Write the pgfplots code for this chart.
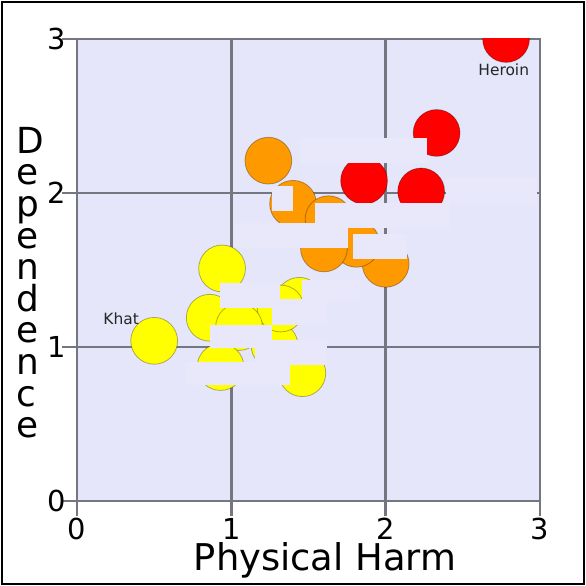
\documentclass[border=0pt]{standalone}
\usepackage{fontspec}
\setmainfont{DejaVu Sans}
\usepackage{pgfplots}
\pgfplotsset{compat=1.18}
\definecolor{lavbg}{RGB}{230,230,250}
\definecolor{boxbg}{RGB}{232,232,250}
\definecolor{gridc}{RGB}{118,118,128}
\definecolor{cred}{RGB}{255,0,0}
\definecolor{corange}{RGB}{255,153,0}
\definecolor{cyellow}{RGB}{255,255,0}
\begin{document}
\begin{tikzpicture}
\begin{axis}[
  scale only axis, width=463bp, height=462bp,
  xmin=0, xmax=3, ymin=0, ymax=3,
  xtick={0,1,2,3}, ytick={0,1,2,3},
  xtick pos=left, ytick pos=left,
  grid=major,
  grid style={gridc, line width=2.5bp},
  axis line style={gridc, line width=2.5bp},
  major tick style={gridc, line width=2.5bp},
  tick align=outside, major tick length=15bp,
  axis background/.style={fill=lavbg},
  /pgf/number format/assume math mode=true,
  ticklabel style={font=\fontsize{29}{29}\selectfont, text=black},
  xticklabel style={inner sep=2bp},
  yticklabel style={inner sep=0bp, xshift=4bp},
  clip=true,
  clip marker paths=true,
]
% red group: Heroin, Cocaine, Barbiturates, Street methadone
\addplot[only marks, mark=*, mark size=23.4bp, mark options={fill=cred, draw=black, draw opacity=0.3, line width=0.8bp}]
  coordinates {(2.78,3.00) (2.33,2.39) (2.23,2.01) (1.86,2.08)};
% orange group: Alcohol, Ketamine, Benzodiazepines, Amphetamine, Tobacco, Buprenorphine
\addplot[only marks, mark=*, mark size=23.4bp, mark options={fill=corange, draw=black, draw opacity=0.3, line width=0.8bp}]
  coordinates {(1.40,1.93) (2.00,1.54) (1.63,1.83) (1.81,1.67) (1.24,2.21) (1.60,1.64)};
% yellow group: Cannabis, Solvents, 4-MTA, LSD, Methylphenidate, Anabolic steroids, GHB, Ecstasy, Alkyl nitrites, Khat
\addplot[only marks, mark=*, mark size=23.4bp, mark options={fill=cyellow, draw=black, draw opacity=0.3, line width=0.8bp}]
  coordinates {(0.94,1.51) (1.28,1.01) (1.44,1.30) (1.13,1.23) (1.32,1.25) (1.46,0.83) (0.86,1.19) (1.05,1.13) (0.93,0.87) (0.50,1.04)};
% label background boxes (labels themselves missing)
\path[fill=boxbg, draw=none] (axis cs:1.262,1.885) rectangle (axis cs:1.402,2.045);
\path[fill=boxbg, draw=none] (axis cs:1.542,1.773) rectangle (axis cs:2.417,1.935);
\path[fill=boxbg, draw=none] (axis cs:1.445,2.195) rectangle (axis cs:2.268,2.357);
\path[fill=boxbg, draw=none] (axis cs:1.024,1.643) rectangle (axis cs:1.756,1.805);
\path[fill=boxbg, draw=none] (axis cs:1.788,1.571) rectangle (axis cs:2.138,1.734);
\path[fill=boxbg, draw=none] (axis cs:2.391,1.935) rectangle (axis cs:2.981,2.097);
\path[fill=boxbg, draw=none] (axis cs:0.927,1.253) rectangle (axis cs:1.315,1.416);
\path[fill=boxbg, draw=none] (axis cs:1.456,1.305) rectangle (axis cs:1.834,1.435);
\path[fill=boxbg, draw=none] (axis cs:1.262,1.143) rectangle (axis cs:1.618,1.310);
\path[fill=boxbg, draw=none] (axis cs:1.153,0.883) rectangle (axis cs:1.618,1.045);
\path[fill=boxbg, draw=none] (axis cs:0.700,0.753) rectangle (axis cs:1.380,0.903);
\path[fill=boxbg, draw=none] (axis cs:0.862,0.994) rectangle (axis cs:1.264,1.143);
\node[anchor=base, inner sep=0, text=black!85, font=\fontsize{15.5}{15.5}\selectfont] at (axis cs:2.765,2.766) {Heroin};
\node[anchor=base, inner sep=0, text=black!85, font=\fontsize{15.5}{15.5}\selectfont] at (axis cs:0.286,1.149) {Khat};
\end{axis}
\node[anchor=base, inner sep=0, font=\fontsize{37}{37}\selectfont] at ([xshift=248bp, yshift=-69.7bp]current axis.south west) {Physical Harm};
\foreach \l [count=\i] in {D,e,p,e,n,d,e,n,c,e} {
  \node[anchor=base west, inner sep=0, font=\fontsize{36}{36}\selectfont] at ([xshift=-61bp, yshift={(347.7-(\i-1)*31.6)*1bp}]current axis.south west) {\l};
}
\draw[line width=1.5bp, black] ([xshift=-75bp,yshift=-83bp]current axis.south west) rectangle ([xshift=507bp,yshift=499bp]current axis.south west);
\pgfresetboundingbox
\path[use as bounding box] ([xshift=-77bp,yshift=-85bp]current axis.south west) rectangle ([xshift=509bp,yshift=501bp]current axis.south west);
\end{tikzpicture}
\end{document}
